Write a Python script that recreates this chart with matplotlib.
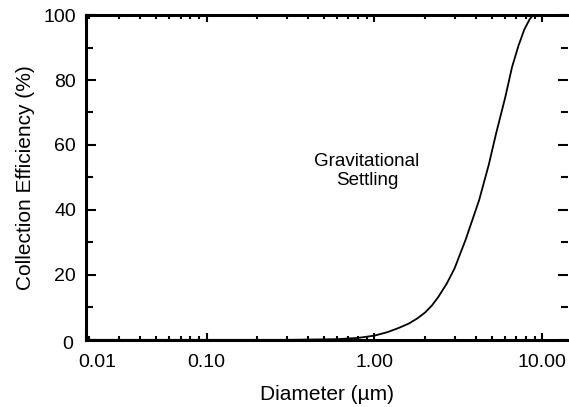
import matplotlib.pyplot as plt
import matplotlib.transforms as mtransforms
from matplotlib.ticker import LogLocator, NullFormatter, MultipleLocator

# values
diameter = [0.0191, 0.3, 0.6, 0.8, 1.0, 1.2, 1.4, 1.6, 1.8, 2.0, 2.2, 2.4, 2.7,
            3.0, 3.5, 4.2, 4.8, 5.3, 6.0, 6.6, 7.2, 7.8, 8.4, 8.8, 14.3]
efficiency = [0, 0, 0.2, 0.6, 1.3, 2.4, 3.7, 5.0, 6.6, 8.4, 10.6, 13.2, 17.4,
              22.0, 31.0, 43.0, 54.0, 63.5, 74.5, 84.0, 90.5, 95.5, 98.7, 100, 100]

xtick_vals = [0.0191, 0.1, 1.0, 10.0]
xtick_labels = ['0.01', '0.10', '1.00', '10.00']
ytick_vals = [0, 20, 40, 60, 80, 100]

plt.rcParams['font.family'] = ['Liberation Sans', 'DejaVu Sans']

fig = plt.figure(figsize=(5.69, 4.07), dpi=100)
ax = fig.add_axes([0.151, 0.165, 0.848, 0.798])

ax.plot(diameter, efficiency, color='black', lw=1.3)

ax.set_xscale('log')
ax.set_xlim(0.0191, 14.3)
ax.set_ylim(0, 100)

ax.set_xticks(xtick_vals)
ax.set_xticklabels(xtick_labels)
ax.xaxis.set_minor_locator(LogLocator(base=10, subs=range(2, 10)))
ax.xaxis.set_minor_formatter(NullFormatter())
ax.set_yticks(ytick_vals)
ax.yaxis.set_minor_locator(MultipleLocator(10))

ax.spines['right'].set_visible(False)
for s in ['left', 'bottom', 'top']:
    ax.spines[s].set_linewidth(2.2)

ax.tick_params(axis='both', which='both', direction='in', top=True, right=True,
               width=1.5, labelsize=14, colors='black')
ax.tick_params(axis='y', which='major', length=7, pad=7)
ax.tick_params(axis='y', which='minor', length=5)
ax.tick_params(axis='x', which='major', length=5, pad=10)
ax.tick_params(axis='x', which='minor', length=3)

# the "0" on the y axis sits a little lower and left, as in the reference
fig.canvas.draw()
zero_lbl = ax.get_yticklabels()[0]
zero_lbl.set_transform(zero_lbl.get_transform() +
                       mtransforms.ScaledTranslation(-2 / 72, -2 / 72, fig.dpi_scale_trans))
# the "0.01" sits a bit to the right of the axis corner
first_lbl = ax.get_xticklabels()[0]
first_lbl.set_transform(first_lbl.get_transform() +
                        mtransforms.ScaledTranslation(8 / 72, 0, fig.dpi_scale_trans))

ax.set_xlabel('Diameter (µm)', fontsize=15, labelpad=10)
ax.set_ylabel('Collection Efficiency (%)', fontsize=15, labelpad=6)

ax.text(0.9, 52, 'Gravitational\nSettling', fontsize=13.5, ha='center', va='center',
        linespacing=1.15)

fig.savefig('out.png', dpi=100)
